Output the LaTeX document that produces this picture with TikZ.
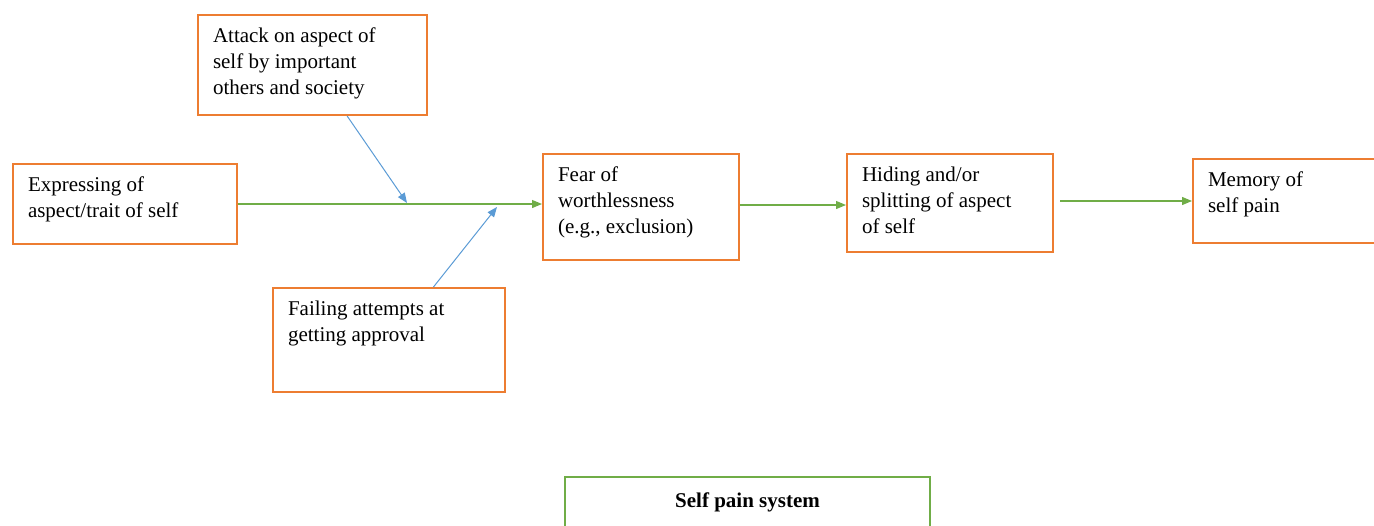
\documentclass[tikz,border=0pt]{standalone}
\usepackage{fontspec}
\setmainfont{Liberation Serif}
\usetikzlibrary{arrows.meta,calc}
\usepackage{xcolor}
\definecolor{boxorange}{HTML}{ED7D31}
\definecolor{flowgreen}{HTML}{70AD47}
\definecolor{pushblue}{HTML}{5B9BD5}
\newcommand\boxtext[3]{\parbox[t][#2][t]{#1}{\raggedright\strut#3}}

\begin{document}
\begin{tikzpicture}[x=.5pt, y=-.5pt,
    box/.style={draw=boxorange, line width=1pt, anchor=north west, inner xsep=7.5pt, inner ysep=4.75pt, font=\fontsize{10.5}{13}\selectfont},
    titlebox/.style={box, draw=flowgreen, inner ysep=6.25pt},
    flow/.style={draw=flowgreen, line width=.6pt, -{Triangle[length=5pt,width=4pt]}},
    push/.style={draw=pushblue, line width=.5pt, -{Triangle[length=5pt,width=4pt]}}]
    \clip (0,0) rectangle (1374,525);

    % Блоки
    \node[box] (expr) at (12,163) {\boxtext{97pt}{30.5pt}{Expressing of\\ aspect/trait of self}};
    \node[box] (attack) at (197,14) {\boxtext{99.5pt}{40.5pt}{Attack on aspect of\\ self by important\\ others and society}};
    \node[box] (fail) at (272,287) {\boxtext{101pt}{42.5pt}{Failing attempts at\\ getting approval}};
    \node[box] (fear) at (542,153) {\boxtext{83pt}{43.5pt}{Fear of\\ worthlessness\\ (e.g., exclusion)}};
    \node[box] (hiding) at (846,153) {\boxtext{88pt}{39.5pt}{Hiding and/or\\ splitting of aspect\\ of self}};
    \node[box] (memory) at (1192,158) {\boxtext{85pt}{32.5pt}{Memory of\\ self pain}};

    % Подпись системы
    \node[titlebox] (system) at (564,476) {\boxtext{167.5pt}{40pt}{\centering\textbf{Self pain system}}};

    % Точки на зелёной линии
    \coordinate (hitA) at (407,203);
    \coordinate (hitB) at (497,207);
    \coordinate (fearout) at ([yshift=1pt]fear.east);
    \coordinate (hideout) at ([xshift=3pt]hiding.east);

    % Стрелки
    \draw[flow] (expr.east) -- (expr.east -| fear.west);
    \draw[push] ($(attack.south west)!.65!(attack.south east)$) -- (hitA);
    \draw[push] ($(fail.north west)!.69!(fail.north east)$) -- (hitB);
    \draw[flow] (fearout) -- (fearout -| hiding.west);
    \draw[flow] (hideout |- memory.west) -- (memory.west);
\end{tikzpicture}
\end{document}
